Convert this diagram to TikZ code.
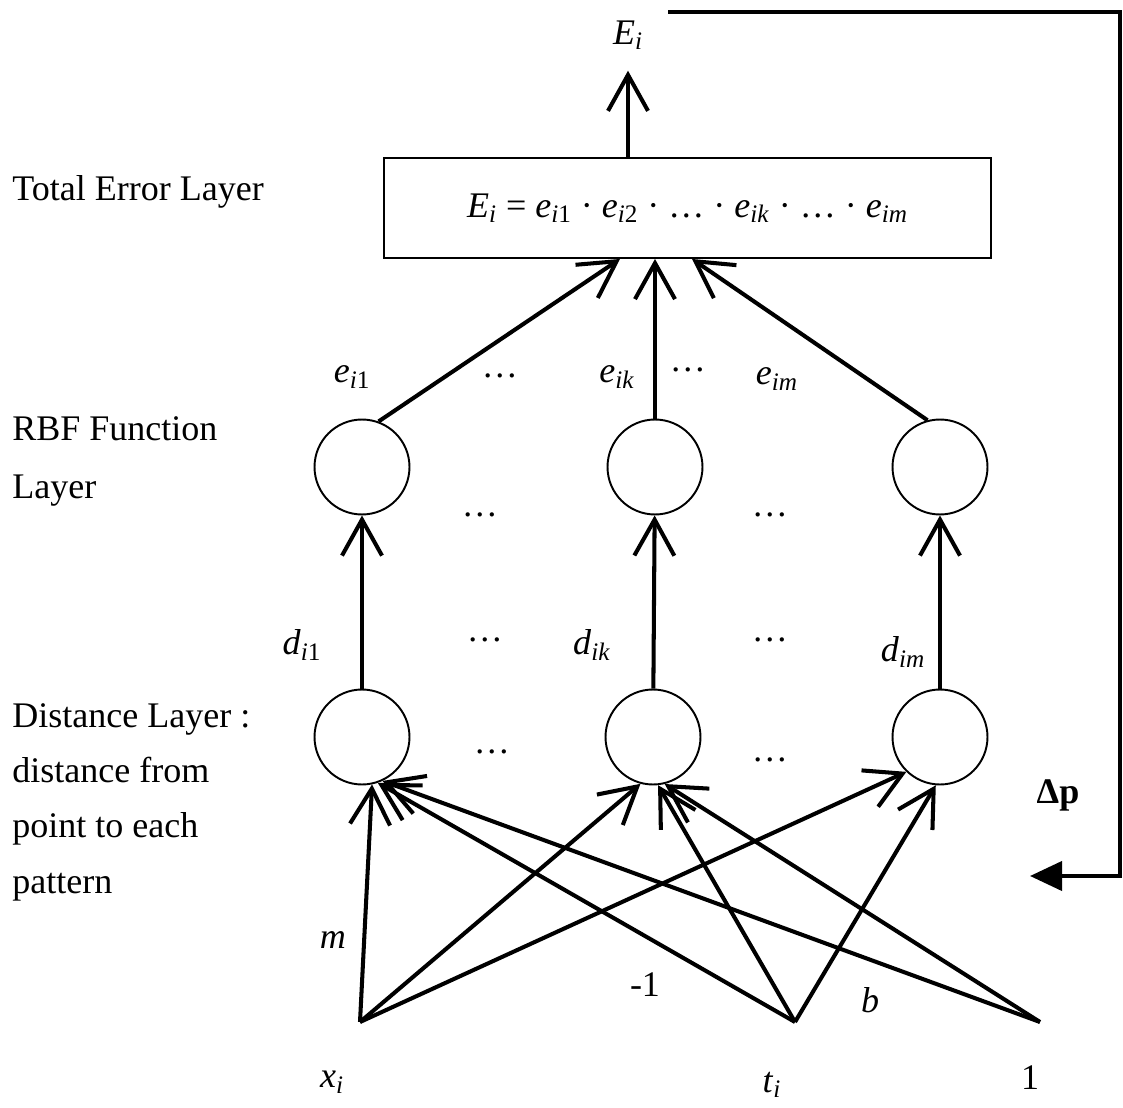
\documentclass[tikz,border=0pt]{standalone}
\usepackage{fontspec}
\setmainfont{Liberation Serif}
\usetikzlibrary{positioning,arrows.meta,calc}

\newcommand{\vsub}[2]{\textit{#1}\textsubscript{#2}}

\begin{document}
\begin{tikzpicture}[x=0.02cm, y=-0.02cm,
    every node/.style={font=\fontsize{20.5}{24}\selectfont},
    >={Straight Barb[length=0.72cm,width=0.8cm]},
    neuron/.style={draw, circle, line width=1.1pt, minimum size=1.9cm, inner sep=0pt},
    link/.style={->, line width=2.3pt},
    layername/.style={anchor=west, align=left, inner sep=0pt}]
    \useasboundingbox (0,0) rectangle (1123,1108);

    % Output and total error layer
    \node (Ei) at (628,35) {\vsub{E}{\textit{i}}};
    \node[draw, line width=1.1pt, minimum width=12.14cm, minimum height=2cm] (total) at (687.5,208) {
    \vsub{E}{\textit{i}} = \vsub{e}{\textit{i}1} · \vsub{e}{\textit{i}2} · … · \vsub{e}{\textit{ik}} · … · \vsub{e}{\textit{im}}
    };
    \draw[link, shorten >=0.3cm] (628,0 |- total.north) -- (Ei);

    % RBF function layer
    \node[neuron] (rbf1) at (362,467) {};
    \node[neuron] (rbf2) at (655,467) {};
    \node[neuron] (rbf3) at (940,467) {};
    \draw[link] (rbf1.70) -- (620,0 |- total.south);
    \draw[link] (rbf2.north) -- (655,0 |- total.south);
    \draw[link] (rbf3.105) -- (692,0 |- total.south);

    \node (e1) at (352,377) {\vsub{e}{\textit{i}1}};
    \node (edotsA) at (500,376) {…};
    \node (ek) at (617,377) {\vsub{e}{\textit{ik}}};
    \node (edotsB) at (688,370) {…};
    \node (em) at (777,379) {\vsub{e}{\textit{im}}};
    \node (rdotsA) at (480,515) {…};
    \node (rdotsB) at (770,515) {…};

    % Distance layer
    \node[neuron] (dist1) at (362,737) {};
    \node[neuron] (dist2) at (653,737) {};
    \node[neuron] (dist3) at (940,737) {};
    \draw[link] (dist1) -- (rbf1);
    \draw[link] (dist2) -- (rbf2);
    \draw[link] (dist3) -- (rbf3);

    \node (d1) at (302,645) {\vsub{d}{\textit{i}1}};
    \node (ddotsA) at (485,640) {…};
    \node (dk) at (592,645) {\vsub{d}{\textit{ik}}};
    \node (ddotsB) at (770,640) {…};
    \node (dm) at (903,652) {\vsub{d}{\textit{im}}};
    \node (sdotsA) at (492,752) {…};
    \node (sdotsB) at (770,760) {…};

    % Inputs
    \coordinate (xin) at (360,1022);
    \coordinate (tin) at (795,1022);
    \coordinate (onein) at (1040,1022);
    \node (xlab) at (332,1082) {\vsub{x}{\textit{i}}};
    \node (tlab) at (772,1085) {\vsub{t}{\textit{i}}};
    \node (onelab) at (1030,1078) {1};

    \draw[link] (xin) -- (dist1.-78);
    \draw[link] (xin) -- (dist2.-105);
    \draw[link] (xin) -- (dist3.-134);
    \draw[link] (tin) -- (dist1.-71);
    \draw[link] (tin) -- (dist2.-84);
    \draw[link] (tin) -- (dist3.-95);
    \draw[link] (onein) -- (dist1.-65);
    \draw[link] (onein) -- (dist2.-76);

    \node (wm) at (333,940) {\textit{m}};
    \node (wminus) at (645,985) {-1};
    \node (wb) at (870,1000) {\textit{b}};

    % Layer names
    \node[layername] (lblTotal) at (12,192) {Total Error Layer};
    \node[layername, font=\fontsize{20.5}{33}\selectfont] (lblRbf) at (12,461) {RBF Function\\Layer};
    \node[layername, font=\fontsize{20.5}{31.5}\selectfont] (lblDist) at (12,802) {Distance Layer :\\distance from\\point to each\\pattern};

    % Feedback loop
    \coordinate (fbA) at (668,12);
    \coordinate (fbB) at (1030,876);
    \draw[line width=2.3pt, -{Triangle[length=0.64cm,width=0.58cm]}] (fbA) -| (1120,876) -- (fbB);
    \node (dp) at (1058,795) {\textbf{Δp}};
\end{tikzpicture}
\end{document}
